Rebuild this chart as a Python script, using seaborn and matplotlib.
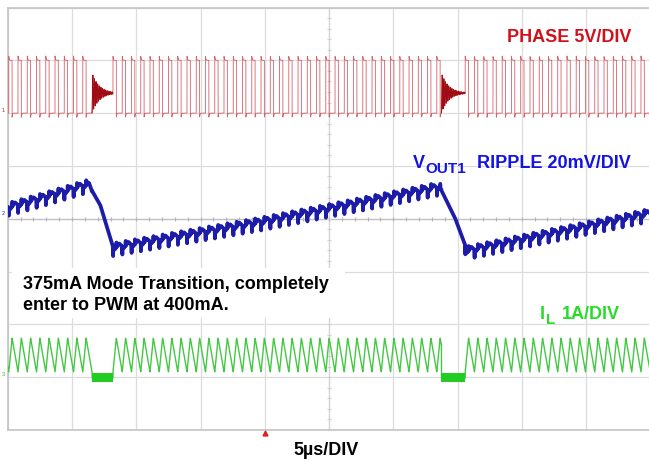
import numpy as np
import pandas as pd
import matplotlib
matplotlib.use("Agg")
import matplotlib.pyplot as plt
from matplotlib.patches import Rectangle
import seaborn as sns

# ---------------- values ----------------
# time axis: 10 div x 5 us ; vertical axis: 8 divisions
T_SW = 0.72                       # switching period (us)
DUTY = 0.36                       # phase-node duty cycle
PAUSE_START = [6.56, 33.75]       # idle (mode transition) windows, us
PAUSE_END = [8.19, 35.60]
PHASE_LEVELS = [6.0, 7.0, 6.38]   # low, high, idle ringing centre (div)
RING_AMP = [0.38]                 # first ringing swing (div)
EDGE_SPIKE = [0.08]               # overshoot at switching edges (div)
IL_LEVELS = [1.10, 1.74, 0.985]   # valley, peak, zero-current (div)
VOUT_T = [0.0, 2.5, 6.25, 7.2, 8.2, 19.6, 33.6, 34.8, 35.75, 50.0]
VOUT_Y = [4.22, 4.39, 4.66, 4.26, 3.46, 3.94, 4.61, 4.02, 3.40, 4.11]
VOUT_RIPPLE = [0.05, 0.15]        # ripple half-amplitude, edge spike (div)

W, H = 649, 462
sns.set_theme(style="white")
plt.rcParams["font.family"] = ["Liberation Sans", "DejaVu Sans"]

fig = plt.figure(figsize=(W / 100, H / 100), dpi=100)
x0, x1, y0, y1 = 7.75, 650.25, 7.5, 430.0
ax = fig.add_axes([x0 / W, 1 - y1 / H, (x1 - x0) / W, (y1 - y0) / H])
ax.set_xlim(0, 50)
ax.set_ylim(0, 8)

# ---------------- build traces ----------------
t = np.arange(0, 50.0001, 0.004)
seg_starts = [0.0] + PAUSE_END
seg_ends = PAUSE_START + [50.0001]
refs = [PAUSE_START[0]] + PAUSE_END
phase = np.full_like(t, np.nan)
il = np.full_like(t, np.nan)
rip = np.zeros_like(t)
for s, e, r in zip(seg_starts, seg_ends, refs):
    m = (t >= s) & (t < e)
    p = np.mod(t[m] - r, T_SW)
    on = DUTY * T_SW
    ph = np.where(p < on, PHASE_LEVELS[1], PHASE_LEVELS[0])
    ph = ph + np.where(p < on, EDGE_SPIKE[0] * np.exp(-p / 0.03),
                       -EDGE_SPIKE[0] * np.exp(-(p - on) / 0.03))
    phase[m] = ph
    il[m] = np.where(p < on,
                     IL_LEVELS[0] + (IL_LEVELS[1] - IL_LEVELS[0]) * p / on,
                     IL_LEVELS[1] - (IL_LEVELS[1] - IL_LEVELS[0]) * (p - on) / (T_SW - on))
    pmin, pmax = on / 2, on + (T_SW - on) / 2
    a = VOUT_RIPPLE[0]
    span_dn = T_SW - pmax + pmin
    rr = np.where(p < pmin, a - 2 * a * (p + T_SW - pmax) / span_dn,
                  np.where(p < pmax, -a + 2 * a * (p - pmin) / (pmax - pmin),
                           a - 2 * a * (p - pmax) / span_dn))
    rr = rr - VOUT_RIPPLE[1] * (p < 0.012) + 0.6 * VOUT_RIPPLE[1] * ((p > on) & (p < on + 0.012))
    rip[m] = rr
for s, e in zip(PAUSE_START, PAUSE_END):
    m = (t >= s) & (t < e)
    dt = t[m] - s
    phase[m] = PHASE_LEVELS[2] - RING_AMP[0] * np.exp(-dt / 0.55) * np.cos(2 * np.pi * 8.0 * dt)
    il[m] = IL_LEVELS[2]
vout = np.interp(t, VOUT_T, VOUT_Y) + rip

df = pd.DataFrame({"t": t, "phase": phase, "il": il, "vout": vout})

# ---------------- grid ----------------
ax.set_xticks(np.arange(0, 51, 5))
ax.set_yticks(np.arange(0, 9, 1))
ax.grid(True, color="#dcdcdc", linewidth=0.9)
ax.set_axisbelow(True)
ax.tick_params(length=0, labelbottom=False, labelleft=False)
for sp in ax.spines.values():
    sp.set_color("#c4c4c4")
    sp.set_linewidth(1.2)
ax.axhline(4, color="#c0c0c0", lw=0.9, zorder=0.6)
ax.axvline(25, color="#d4d4d4", lw=0.9, zorder=0.6)
ax.plot(np.arange(0, 50, 1.0), np.full(50, 4.0), ls="", marker="|", ms=3,
        color="#b4b4b4", mew=0.8, zorder=0.7)
ax.plot(np.full(40, 25.0), np.arange(0, 8, 0.2), ls="", marker="_", ms=3,
        color="#d0d0d0", mew=0.8, zorder=0.7)

# ---------------- traces ----------------
sns.lineplot(data=df, x="t", y="phase", ax=ax, color="#d2505a", linewidth=0.6,
             alpha=0.9, estimator=None, sort=False, zorder=3)
for s, e in zip(PAUSE_START, PAUSE_END):
    d = df[(df.t >= s) & (df.t < e)]
    sns.lineplot(data=d, x="t", y="phase", ax=ax, color="#a00c14", linewidth=0.7,
                 estimator=None, sort=False, zorder=3.1)
sns.lineplot(data=df, x="t", y="vout", ax=ax, color="#1c1ca8", linewidth=2.7,
             estimator=None, sort=False, zorder=3)
sns.lineplot(data=df, x="t", y="il", ax=ax, color="#44c844", linewidth=1.0,
             estimator=None, sort=False, zorder=3)
for s, e in zip(PAUSE_START, PAUSE_END):
    ax.fill_between([s, e], [IL_LEVELS[2] - 0.08] * 2, [IL_LEVELS[2] + 0.09] * 2,
                    color="#22cc22", lw=0, zorder=3.2)
ax.set_xlabel("")
ax.set_ylabel("")

# trigger / channel markers
ax.plot([20], [-0.06], marker="^", ms=3.5, color="#e02020", clip_on=False, zorder=5)
ax.text(-0.45, PHASE_LEVELS[0] + 0.05, "1", fontsize=4, color="#d02020", ha="left",
        va="center", clip_on=False)
ax.text(-0.45, 4.1, "2", fontsize=4, color="#2020c0", ha="left", va="center", clip_on=False)
ax.text(-0.45, 1.05, "3", fontsize=4, color="#30c030", ha="left", va="center", clip_on=False)


def ftext(x, y, s, **kw):
    fig.text(x / W, 1 - y / H, s, fontweight="bold", va="baseline", **kw)


# labels
ftext(507, 41.5, "PHASE 5V/DIV", fontsize=13, color="#d0101a")
ftext(413, 168, "V", fontsize=13, color="#1414e0")
ftext(425, 173, "OUT1", fontsize=11, color="#1414e0")
ftext(631, 168, "RIPPLE 20mV/DIV", fontsize=13, color="#1414e0", ha="right")
ftext(540, 319, "I", fontsize=13, color="#28dc28")
ftext(546, 324, "L", fontsize=11, color="#28dc28")
ftext(620, 319, "1A/DIV", fontsize=13, color="#28dc28", ha="right")

fig.patches.append(Rectangle((12 / W, 1 - 318 / H), 333 / W, 50 / H,
                             transform=fig.transFigure, facecolor="white",
                             edgecolor="none", zorder=5))
ftext(23, 289, "375mA Mode Transition, completely", fontsize=13, color="black", zorder=6)
ftext(23, 310, "enter to PWM at 400mA.", fontsize=13, color="black", zorder=6)
ftext(326, 455, "5µs/DIV", fontsize=13, color="black", ha="center")

fig.savefig("out.png", dpi=100)
